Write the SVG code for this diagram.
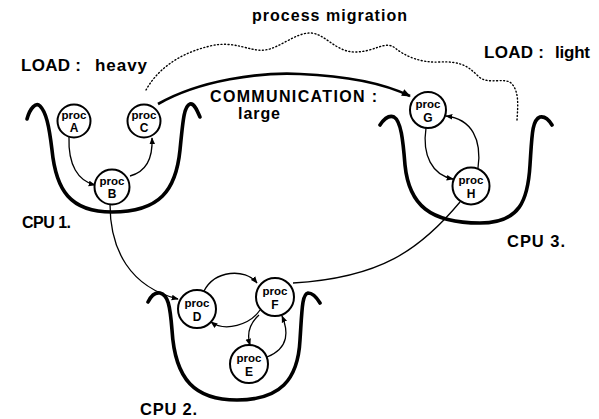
<svg xmlns="http://www.w3.org/2000/svg" width="599" height="419" viewBox="0 0 599 419">
<style>
.bowl{fill:none;stroke:#000;stroke-width:3.6;stroke-linecap:round}
.node circle{fill:#fff;stroke:#000;stroke-width:2}
.node text{font-family:"Liberation Sans",Arial,sans-serif;font-weight:bold;text-anchor:middle;fill:#000}
.p{font-size:11.5px}
.l{font-size:12px}
.edge{fill:none;stroke:#000;stroke-width:1.3}
.thick{fill:none;stroke:#000;stroke-width:2.6}
.dots{fill:none;stroke:#000;stroke-width:1.4;stroke-dasharray:1 2.5;stroke-linecap:round}
.lbl{font-family:"Liberation Sans",Arial,sans-serif;font-weight:bold;fill:#000}
</style>
<defs>
<marker id="ah" viewBox="0 0 10 10" refX="9" refY="5" markerWidth="7" markerHeight="7" markerUnits="userSpaceOnUse" orient="auto">
<path d="M0,1 L10,5 L0,9 z" fill="#000"/>
</marker>
<marker id="ahb" viewBox="0 0 10 10" refX="9" refY="5" markerWidth="10" markerHeight="9" markerUnits="userSpaceOnUse" orient="auto">
<path d="M0,1 L10,5 L0,9 z" fill="#000"/>
</marker>
</defs>

<g id="cpu1">
<path class="bowl" d="M27,119 C30,108 36,102 40,106 C46,112 49,125 52,150 C56,190 70,212 112,212 C160,212 176,190 180,150 C183,120 184,106 190,104 C194,103 197,110 200,117"/>
<text class="lbl" x="22" y="228" font-size="16" textLength="49">CPU 1.</text>
</g>
<g id="cpu2">
<path class="bowl" d="M148,302 C151,296 155,292 160,293 C168,295 170,305 172,330 C175,380 195,400 237,400 C280,400 298,380 300,340 C302,310 302,294 308,293 C313,293 317,298 320,303"/>
<text class="lbl" x="140" y="415" font-size="16.5" textLength="57">CPU 2.</text>
</g>
<g id="cpu3">
<path class="bowl" d="M380,125 C384,119 389,115 394,117 C401,121 403,140 405,165 C409,205 430,223 480,223 C520,223 528,200 530,165 C532,135 532,120 540,117 C545,116 549,120 552,125"/>
<text class="lbl" x="507" y="247" font-size="16.5" textLength="58">CPU 3.</text>
</g>

<g id="connectors">
<path class="dots" d="M146,90 C160,65 185,52 210,46 S250,52 265,50 S295,33 310,33 S335,52 355,52 S385,40 395,48 S420,63 440,62 S468,66 478,76 S505,76 512,84 S518,105 517,120"/>
<path class="thick" d="M158,104 C200,80 260,72 300,74 C350,76 385,84 410,96" marker-end="url(#ahb)"/>
<path class="edge" d="M69,137 C68,165 78,181 95,185" marker-end="url(#ah)"/>
<path class="edge" d="M130,176 C145,172 153,160 152,138" marker-end="url(#ah)"/>
<path class="edge" d="M110,204 C110,250 130,287 178,299" marker-end="url(#ah)"/>
<path class="edge" d="M426,128 C422,155 432,175 453,179" marker-end="url(#ah)"/>
<path class="edge" d="M478,168 C482,140 472,119 446,116" marker-end="url(#ah)"/>
<path class="edge" d="M460,202 C420,250 380,278 293,283"/>
<path class="edge" d="M204,291 C215,270 245,268 257,283" marker-end="url(#ah)"/>
<path class="edge" d="M260,310 C250,325 225,332 211,322" marker-end="url(#ah)"/>
<path class="edge" d="M259,315 C248,325 247,335 250,345" marker-end="url(#ah)"/>
<path class="edge" d="M267,357 C290,348 288,330 282,316" marker-end="url(#ah)"/>
</g>

<g id="procA" class="node"><circle cx="74" cy="121" r="16.5"/><text class="p" x="74" y="119">proc</text><text class="l" x="74" y="132">A</text></g>
<g id="procB" class="node"><circle cx="112" cy="187" r="17.5"/><text class="p" x="112" y="185">proc</text><text class="l" x="112" y="198">B</text></g>
<g id="procC" class="node"><circle cx="144" cy="121" r="16.5"/><text class="p" x="144" y="119">proc</text><text class="l" x="144" y="132">C</text></g>
<g id="procD" class="node"><circle cx="197" cy="309" r="19"/><text class="p" x="197" y="307">proc</text><text class="l" x="197" y="321">D</text></g>
<g id="procE" class="node"><circle cx="249" cy="364" r="19"/><text class="p" x="249" y="362">proc</text><text class="l" x="249" y="376">E</text></g>
<g id="procF" class="node"><circle cx="275" cy="297" r="19"/><text class="p" x="275" y="295">proc</text><text class="l" x="275" y="309">F</text></g>
<g id="procG" class="node"><circle cx="428" cy="110" r="18"/><text class="p" x="428" y="108">proc</text><text class="l" x="428" y="122">G</text></g>
<g id="procH" class="node"><circle cx="471" cy="186" r="18.5"/><text class="p" x="471" y="184">proc</text><text class="l" x="471" y="198">H</text></g>

<g id="labels">
<text class="lbl" x="252" y="21" font-size="16" textLength="155">process migration</text>
<text class="lbl" x="21" y="71" font-size="17" textLength="60">LOAD :</text>
<text class="lbl" x="95" y="71" font-size="17" textLength="52">heavy</text>
<text class="lbl" x="484" y="58" font-size="17" textLength="60">LOAD :</text>
<text class="lbl" x="555" y="58" font-size="17" textLength="35">light</text>
<text class="lbl" x="210" y="102" font-size="16" textLength="167">COMMUNICATION :</text>
<text class="lbl" x="238" y="119" font-size="16" textLength="42">large</text>
</g>
</svg>
